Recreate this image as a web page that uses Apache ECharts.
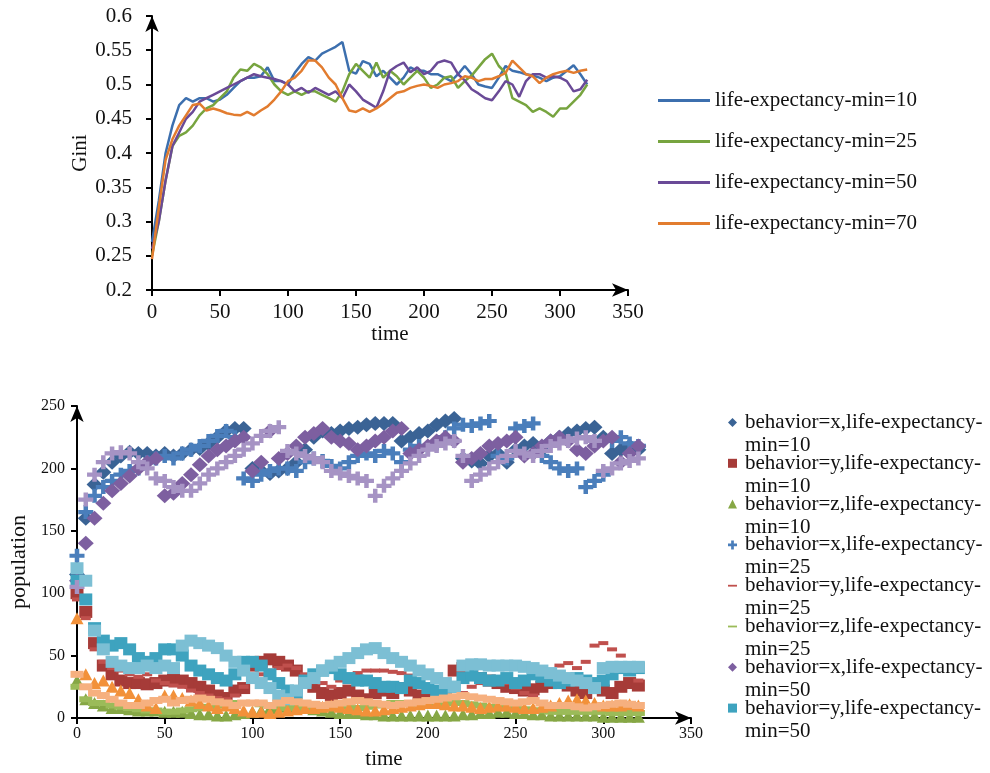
<!DOCTYPE html>
<html>
<head>
<meta charset="utf-8">
<script src="https://cdn.jsdelivr.net/npm/echarts@6/dist/echarts.min.js"></script>
<style>
  html, body { margin: 0; padding: 0; background: #fff; }
  #chart { width: 990px; height: 773px; }
</style>
</head>
<body>
<div id="chart"></div>
<script>
// time steps (every 5 ticks) shared by both panels
const times = [0,5,10,15,20,25,30,35,40,45,50,55,60,65,70,75,80,85,90,95,100,105,110,115,120,125,130,135,140,145,150,155,160,165,170,175,180,185,190,195,200,205,210,215,220,225,230,235,240,245,250,255,260,265,270,275,280,285,290,295,300,305,310,315,320]

// top panel: Gini
const giniNames = ['life-expectancy-min=10', 'life-expectancy-min=25', 'life-expectancy-min=50', 'life-expectancy-min=70']
const gini10 = [0.27,0.33,0.40,0.44,0.47,0.48,0.475,0.48,0.48,0.475,0.478,0.485,0.495,0.505,0.51,0.51,0.512,0.525,0.505,0.505,0.50,0.517,0.53,0.54,0.535,0.545,0.55,0.555,0.562,0.52,0.516,0.534,0.53,0.512,0.52,0.51,0.50,0.51,0.525,0.52,0.52,0.515,0.515,0.51,0.505,0.515,0.527,0.515,0.50,0.497,0.495,0.51,0.527,0.52,0.518,0.515,0.513,0.51,0.505,0.51,0.512,0.52,0.528,0.515,0.50]
const gini25 = [0.25,0.30,0.36,0.41,0.425,0.43,0.44,0.455,0.465,0.47,0.48,0.49,0.51,0.522,0.52,0.53,0.525,0.515,0.50,0.49,0.485,0.49,0.485,0.49,0.49,0.485,0.48,0.475,0.49,0.515,0.53,0.52,0.51,0.532,0.51,0.52,0.512,0.50,0.51,0.52,0.51,0.495,0.50,0.51,0.512,0.495,0.505,0.513,0.525,0.537,0.545,0.527,0.517,0.48,0.475,0.47,0.46,0.465,0.46,0.453,0.465,0.465,0.475,0.485,0.50]
const gini50 = [0.26,0.30,0.36,0.41,0.43,0.45,0.46,0.475,0.48,0.485,0.49,0.495,0.50,0.505,0.51,0.515,0.512,0.51,0.508,0.505,0.50,0.49,0.495,0.488,0.495,0.49,0.485,0.49,0.48,0.50,0.49,0.478,0.472,0.466,0.49,0.52,0.527,0.532,0.518,0.525,0.515,0.52,0.532,0.535,0.532,0.515,0.506,0.493,0.487,0.48,0.477,0.49,0.505,0.50,0.482,0.505,0.515,0.515,0.51,0.512,0.51,0.505,0.49,0.493,0.507]
const gini70 = [0.245,0.32,0.39,0.42,0.44,0.455,0.47,0.472,0.462,0.465,0.462,0.458,0.456,0.455,0.46,0.455,0.462,0.468,0.478,0.49,0.505,0.51,0.52,0.535,0.535,0.525,0.51,0.50,0.48,0.462,0.46,0.465,0.46,0.465,0.472,0.48,0.488,0.49,0.495,0.498,0.50,0.498,0.495,0.50,0.502,0.505,0.512,0.51,0.505,0.508,0.508,0.512,0.517,0.535,0.525,0.515,0.512,0.502,0.51,0.515,0.518,0.52,0.517,0.52,0.522]
const giniColors = ['#3C6FAE', '#77A43F', '#6A4A97', '#E27C2F']

// bottom panel: population by behavior and life-expectancy-min
const x10 = [115,160,187,197,205,210,213,212,212,210,212,210,212,215,216,220,225,230,232,232,200,198,196,198,200,205,215,225,230,228,230,232,233,235,236,236,236,222,225,228,230,235,238,240,208,206,204,210,212,205,215,218,220,215,222,225,228,230,232,233,225,212,215,218,215]
const y10 = [100,85,60,42,35,30,28,28,27,28,30,32,30,28,25,22,18,16,22,24,42,45,47,45,42,38,30,25,20,18,20,22,18,15,20,22,20,24,22,18,15,14,16,38,40,36,32,30,28,25,24,22,23,25,28,30,26,22,20,24,22,20,25,28,26]
const z10 = [30,15,12,10,8,8,7,6,6,6,5,5,5,4,3,3,2,2,3,4,5,6,8,9,10,9,8,7,6,5,4,4,4,3,3,2,2,2,2,2,2,2,2,2,3,3,4,4,5,5,4,4,3,3,2,2,2,2,2,2,1,1,1,1,1]
const x25 = [130,165,178,185,190,195,198,200,205,208,210,208,212,215,218,222,226,230,225,192,190,195,198,200,200,198,205,208,206,202,200,205,210,212,210,214,212,205,215,218,216,220,225,232,235,234,236,238,210,208,232,234,236,210,205,200,198,200,185,190,195,222,225,220,218]
const y25 = [95,80,55,45,40,38,35,33,35,30,28,26,25,22,20,18,16,15,18,25,30,35,38,40,42,40,35,30,28,25,30,34,36,38,38,38,37,36,34,30,26,22,18,15,20,25,28,30,32,28,24,20,18,30,38,42,44,40,45,58,60,55,50,40,30]
const z25 = [25,15,12,12,10,9,8,7,6,6,5,5,6,7,8,9,10,11,12,12,12,11,10,9,8,8,8,9,10,10,10,9,8,9,10,11,12,12,12,11,10,11,12,12,12,11,10,9,8,8,8,7,6,6,5,5,5,5,5,5,5,4,4,4,4]
const x50 = [110,140,160,172,182,188,194,200,205,208,178,180,188,195,203,210,215,218,222,225,198,205,230,208,212,218,225,228,232,225,222,220,215,218,222,225,230,232,212,215,218,222,225,222,205,208,212,218,220,222,225,210,212,218,222,225,222,215,212,218,222,225,205,212,218]
const y50 = [110,95,72,62,58,60,55,48,45,48,55,55,50,42,38,35,32,30,35,45,45,42,35,28,22,20,30,35,38,40,35,32,30,30,28,25,25,24,30,28,24,22,20,25,32,34,32,30,30,32,28,30,35,33,30,28,30,32,30,28,30,35,40,38,40]
const z50 = [80,35,28,30,25,22,20,15,10,8,18,18,16,14,12,10,8,10,8,6,5,5,4,5,6,7,8,8,9,10,9,8,7,6,6,7,8,9,10,11,12,12,11,10,10,9,8,9,10,10,9,8,8,9,10,12,14,15,14,12,10,10,10,11,10]
const x70 = [105,175,195,205,212,213,212,205,200,192,190,185,182,182,188,195,200,205,210,215,220,226,230,233,214,212,210,208,205,198,196,194,192,190,178,186,192,198,204,210,215,218,220,222,210,190,195,200,205,210,214,212,210,214,218,220,222,224,225,222,198,200,204,206,208]
const y70 = [120,110,70,55,45,42,40,40,42,40,42,40,58,62,60,58,56,50,45,38,32,28,24,18,15,22,28,32,38,42,45,48,52,55,56,52,48,45,42,38,35,32,28,25,42,43,43,42,42,42,42,41,40,38,36,34,32,30,28,24,40,41,41,41,41]
const z70 = [35,25,20,18,15,12,10,10,12,14,15,12,14,15,16,15,13,12,10,12,12,12,10,12,14,13,12,11,10,11,12,13,14,13,12,11,10,11,12,13,14,15,16,17,18,17,16,15,14,13,12,13,14,12,10,10,10,9,8,9,10,11,12,11,10]

const plus = 'path://M3.5,0H6.5V3.5H10V6.5H6.5V10H3.5V6.5H0V3.5H3.5Z'
const dash = 'path://M0,4H10V6H0Z'

const popSeries = [
  { name: 'behavior=x,life-expectancy-min=10', data: x10, color: '#3A6395', symbol: 'diamond', size: [16, 15], icon: 'diamond' },
  { name: 'behavior=y,life-expectancy-min=10', data: y10, color: '#A63B38', symbol: 'rect', size: [13, 12], icon: 'rect' },
  { name: 'behavior=z,life-expectancy-min=10', data: z10, color: '#86A745', symbol: 'triangle', size: [13, 12], icon: 'triangle' },
  { name: 'behavior=x,life-expectancy-min=25', data: x25, color: '#4A7EBB', symbol: plus, size: [15, 14], icon: plus },
  { name: 'behavior=y,life-expectancy-min=25', data: y25, color: '#C0504D', symbol: 'rect', size: [10, 4], icon: dash },
  { name: 'behavior=z,life-expectancy-min=25', data: z25, color: '#9BBB59', symbol: 'rect', size: [13, 6], icon: dash },
  { name: 'behavior=x,life-expectancy-min=50', data: x50, color: '#7D5FA0', symbol: 'diamond', size: [16, 15], icon: 'diamond' },
  { name: 'behavior=y,life-expectancy-min=50', data: y50, color: '#3EA3BF', symbol: 'rect', size: [13, 12], icon: 'rect' },
  { name: 'behavior=z,life-expectancy-min=50', data: z50, color: '#F2913A', symbol: 'triangle', size: [13, 12] },
  { name: 'behavior=x,life-expectancy-min=70', data: x70, color: '#A693C4', symbol: plus, size: [15, 14] },
  { name: 'behavior=y,life-expectancy-min=70', data: y70, color: '#7CBFD4', symbol: 'rect', size: [13, 12] },
  { name: 'behavior=z,life-expectancy-min=70', data: z70, color: '#F6B07F', symbol: 'rect', size: [13, 7] },
]

const font = 'Liberation Serif'
const pair = (arr) => times.map((t, i) => [t, arr[i]])

const axisLine = { show: true, lineStyle: { color: '#000', width: 2 } }
const axisTick = { show: true, length: 6, lineStyle: { color: '#000', width: 2 } }

const chart = echarts.init(document.getElementById('chart'), null, { renderer: 'canvas' })

chart.setOption({
  backgroundColor: '#fff',
  animation: false,
  textStyle: { fontFamily: font, color: '#111' },
  grid: [
    { left: 152, top: 16, width: 476, height: 274 },
    { left: 77, top: 406, width: 614, height: 312 },
  ],
  legend: [
    {
      data: giniNames.map((n) => ({ name: n, icon: 'rect' })),
      orient: 'vertical',
      left: 658,
      top: 90,
      padding: 0,
      itemWidth: 52,
      itemHeight: 3,
      itemGap: 20,
      textStyle: { fontFamily: font, fontSize: 21, color: '#111', lineHeight: 21 },
    },
    {
      data: popSeries.slice(0, 8).map((s) => ({ name: s.name, icon: s.icon })),
      orient: 'vertical',
      left: 728,
      top: 388,
      padding: 0,
      itemWidth: 9,
      itemHeight: 9,
      itemGap: -28.2,
      // blank first line keeps the marker level with the first text line
      formatter: (n) => '\n' + n.replace('life-expectancy-min', 'life-expectancy-\nmin'),
      textStyle: { fontFamily: font, fontSize: 21, color: '#111', lineHeight: 23, padding: [0, 0, 0, 3] },
    },
  ],
  xAxis: [
    {
      gridIndex: 0, type: 'value', min: 0, max: 350, interval: 50,
      name: 'time', nameLocation: 'middle', nameGap: 34,
      nameTextStyle: { fontFamily: font, fontSize: 21, color: '#111' },
      axisLine: { ...axisLine, symbol: ['none', 'arrow'], symbolSize: [10, 16] },
      axisTick, splitLine: { show: false },
      axisLabel: { fontFamily: font, fontSize: 21, color: '#111', margin: 12 },
    },
    {
      gridIndex: 1, type: 'value', min: 0, max: 350, interval: 50,
      name: 'time', nameLocation: 'middle', nameGap: 31,
      nameTextStyle: { fontFamily: font, fontSize: 21, color: '#111' },
      axisLine: { ...axisLine, symbol: ['none', 'arrow'], symbolSize: [10, 16] },
      axisTick, splitLine: { show: false },
      axisLabel: { fontFamily: font, fontSize: 16, color: '#111', margin: 8 },
    },
  ],
  yAxis: [
    {
      gridIndex: 0, type: 'value', min: 0.2, max: 0.6, interval: 0.05,
      name: 'Gini', nameLocation: 'middle', nameGap: 60,
      nameTextStyle: { fontFamily: font, fontSize: 21, color: '#111' },
      axisLine: { ...axisLine, symbol: ['none', 'arrow'], symbolSize: [10, 16] },
      axisTick, splitLine: { show: false },
      axisLabel: { fontFamily: font, fontSize: 21, color: '#111', margin: 20,
        formatter: (v) => String(Math.round(v * 100) / 100) },
    },
    {
      gridIndex: 1, type: 'value', min: 0, max: 250, interval: 50,
      name: 'population', nameLocation: 'middle', nameGap: 40,
      nameTextStyle: { fontFamily: font, fontSize: 22, color: '#111' },
      axisLine: { ...axisLine, symbol: ['none', 'arrow'], symbolSize: [10, 16] },
      axisTick, splitLine: { show: false },
      axisLabel: { fontFamily: font, fontSize: 16, color: '#111', margin: 12 },
    },
  ],
  series: [
    ...[gini10, gini25, gini50, gini70].map((arr, i) => ({
      name: giniNames[i],
      type: 'line',
      xAxisIndex: 0,
      yAxisIndex: 0,
      data: pair(arr),
      symbol: 'none',
      color: giniColors[i],
      lineStyle: { width: 2.5, color: giniColors[i] },
    })),
    ...popSeries.map((s) => ({
      name: s.name,
      type: 'scatter',
      xAxisIndex: 1,
      yAxisIndex: 1,
      data: pair(s.data),
      symbol: s.symbol,
      symbolSize: s.size,
      itemStyle: { color: s.color, opacity: 1 },
    })),
  ],
})
</script>
</body>
</html>
